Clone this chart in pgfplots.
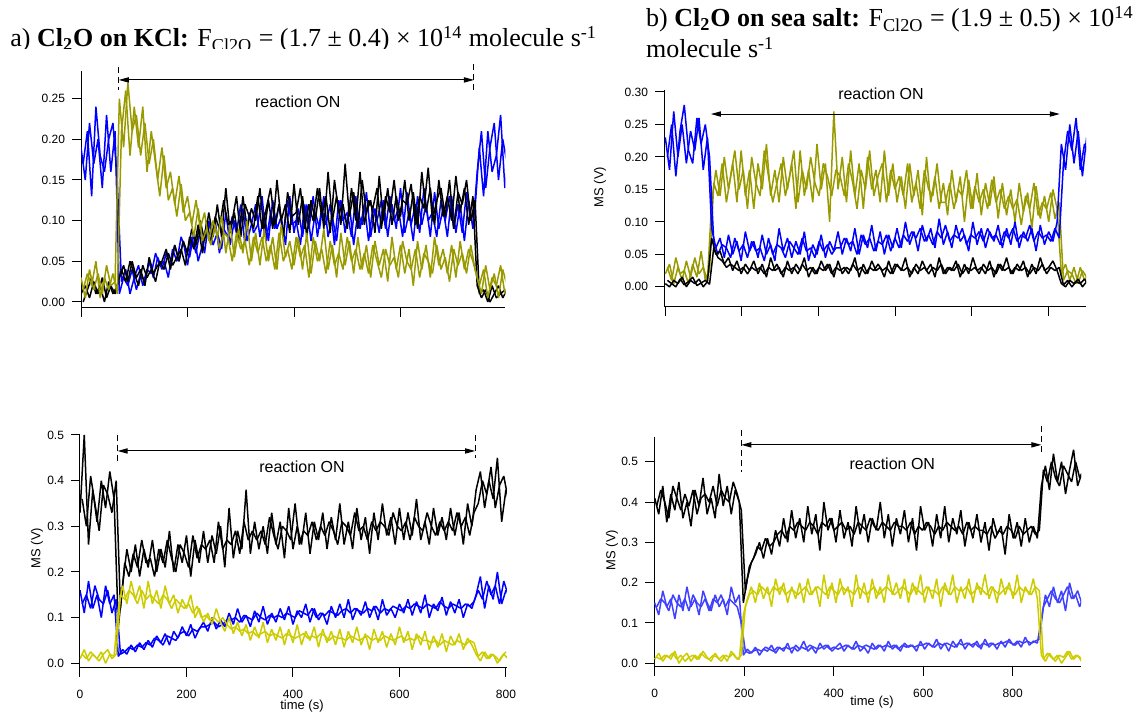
\documentclass[border=0pt]{standalone}
\usepackage{fontspec}
\setmainfont{Liberation Serif}
\setsansfont{Liberation Sans}
\usepackage{pgfplots}
\pgfplotsset{compat=1.18}
\usetikzlibrary{arrows.meta}
\definecolor{cblue}{RGB}{0,0,255}
\definecolor{colive}{RGB}{153,153,0}
\definecolor{cyel}{RGB}{204,204,0}
\definecolor{lblue}{RGB}{64,64,255}
\pgfplotsset{igor/.style={
  scale only axis, axis x line*=bottom, axis y line*=left,
  axis line style={-, line width=0.5pt},
  tick align=outside, major tick length=4.5pt,
  every tick/.style={black, line width=0.5pt},
  tick label style={font=\sffamily\fontsize{6}{7}\selectfont},
  xticklabel style={yshift=-3pt},
  /pgf/number format/assume math mode=true,
  clip mode=individual,
  every axis plot/.append style={line width=0.75pt, mark=none, line join=bevel},
}}
\tikzset{rxn/.style={{Triangle[length=5pt,width=2.6pt]}-{Triangle[length=5pt,width=2.6pt]}, line width=0.5pt},
  rxnlab/.style={font=\sffamily\fontsize{8}{9}\selectfont},
  dsh/.style={dashed, dash pattern=on 3pt off 2pt, line width=0.5pt},
  axl/.style={font=\sffamily\fontsize{6.5}{7}\selectfont}}
\begin{document}
\begin{tikzpicture}
\useasboundingbox (0,0) rectangle (573pt,358pt);
% titles
\begin{scope}
\clip (0,333.5pt) rectangle (320pt,358pt);
\node[anchor=base west, inner sep=0, font=\fontsize{13}{15}\selectfont] at (5pt,334.5pt) {a) \textbf{Cl\textsubscript{2}O on KCl:} F\textsubscript{Cl2O} = (1.7 ± 0.4) × 10\textsuperscript{14} molecule s\textsuperscript{-1}};
\end{scope}
\node[anchor=base west, inner sep=0, font=\fontsize{13}{15}\selectfont] at (322.9pt,344.5pt) {b) \textbf{Cl\textsubscript{2}O on sea salt:} F\textsubscript{Cl2O} = (1.9 ± 0.5) × 10\textsuperscript{14}};
\node[anchor=base west, inner sep=0, font=\fontsize{13}{15}\selectfont] at (322.9pt,329pt) {molecule s\textsuperscript{-1}};
% axis labels
\node[axl, rotate=90] at (18.5pt,84pt) {MS (V)};
\node[axl] at (151pt,5pt) {time (s)};
\node[axl, rotate=90] at (306pt,83pt) {MS (V)};
\node[axl] at (436pt,7pt) {time (s)};
\node[axl, rotate=90] at (300pt,264.5pt) {MS (V)};

% ---------------- panel a top ----------------
\begin{axis}[igor, at={(40.5pt,204pt)}, anchor=south west,
  width=212.2pt, height=118.5pt,
  xmin=0, xmax=797, ymin=-0.0074, ymax=0.284,
  xtick={0,200,400,600}, xticklabels={},
  ytick={0,0.05,0.1,0.15,0.2,0.25},
  yticklabel style={/pgf/number format/.cd, fixed, fixed zerofill, precision=2}]
\addplot[cblue] table[row sep=\\, header=false, x expr=\coordindex*8, y index=0] {
0.19\\0.15\\0.22\\0.17\\0.20\\0.14\\0.23\\0.16\\0.21\\
0.01\\0.03\\0.02\\0.04\\0.015\\0.035\\0.025\\
0.05\\0.03\\0.055\\0.04\\0.06\\0.045\\
0.07\\0.05\\0.075\\0.045\\0.08\\0.06\\
0.09\\0.06\\0.10\\0.07\\0.085\\0.065\\
0.11\\0.07\\0.10\\0.08\\0.115\\0.075\\0.095\\
0.12\\0.08\\0.11\\0.075\\0.125\\0.09\\0.105\\0.07\\0.13\\0.085\\0.115\\0.08\\
0.12\\0.075\\0.11\\0.09\\0.13\\0.08\\0.105\\0.075\\0.125\\0.085\\0.12\\0.07\\0.11\\0.095\\0.135\\0.08\\0.115\\0.085\\
0.125\\0.08\\0.12\\0.09\\0.14\\0.085\\0.11\\0.075\\0.13\\0.095\\0.12\\0.08\\0.135\\0.09\\0.115\\0.08\\0.13\\0.085\\0.12\\0.075\\0.125\\0.09\\
0.16\\0.21\\0.14\\0.19\\0.22\\0.15\\0.20\\0.17\\
};
\addplot[cblue] table[row sep=\\, header=false, x expr=\coordindex*8+4, y index=0] {
0.17\\0.21\\0.13\\0.24\\0.18\\0.16\\0.20\\0.22\\0.15\\
0.025\\0.04\\0.01\\0.03\\0.045\\0.02\\0.04\\
0.035\\0.06\\0.045\\0.05\\0.03\\0.065\\
0.05\\0.08\\0.065\\0.055\\0.085\\0.05\\
0.07\\0.095\\0.075\\0.10\\0.06\\0.09\\
0.08\\0.105\\0.085\\0.12\\0.07\\0.11\\0.085\\
0.095\\0.13\\0.075\\0.11\\0.09\\0.12\\0.08\\0.125\\0.095\\0.10\\0.07\\0.12\\
0.09\\0.13\\0.08\\0.115\\0.095\\0.12\\0.07\\0.125\\0.10\\0.11\\0.08\\0.13\\0.09\\0.12\\0.075\\0.115\\0.10\\0.125\\
0.09\\0.13\\0.10\\0.115\\0.08\\0.135\\0.095\\0.12\\0.085\\0.14\\0.10\\0.11\\0.08\\0.125\\0.10\\0.13\\0.09\\0.12\\0.085\\0.135\\0.10\\0.115\\
0.19\\0.13\\0.21\\0.16\\0.18\\0.23\\0.14\\0.19\\
};
\addplot[black] table[row sep=\\, header=false, x expr=\coordindex*8, y index=0] {
0.01\\0.02\\0.005\\0.025\\0.01\\0.03\\0.005\\0.02\\0.01\\
0.03\\0.045\\0.025\\0.05\\0.03\\0.04\\0.02\\0.055\\0.035\\0.045\\
0.05\\0.065\\0.04\\0.07\\0.05\\0.075\\
0.06\\0.09\\0.07\\0.10\\0.075\\0.11\\0.08\\
0.12\\0.08\\0.14\\0.085\\0.11\\0.075\\0.13\\0.09\\0.115\\
0.10\\0.14\\0.085\\0.125\\0.09\\0.15\\0.10\\0.12\\0.085\\0.145\\0.095\\0.13\\0.08\\0.125\\0.10\\
0.14\\0.09\\0.16\\0.10\\0.13\\0.095\\0.17\\0.105\\0.135\\0.09\\0.15\\0.11\\0.125\\0.085\\0.155\\0.10\\0.14\\0.095\\0.13\\0.105\\
0.15\\0.10\\0.135\\0.09\\0.16\\0.11\\0.14\\0.095\\0.15\\0.105\\0.13\\0.10\\0.155\\0.11\\0.14\\0.095\\0.13\\
0.02\\0.005\\0.015\\0.0\\0.01\\0.02\\0.005\\0.015\\
};
\addplot[black] table[row sep=\\, header=false, x expr=\coordindex*8+4, y index=0] {
0.0\\0.015\\0.03\\0.01\\0.02\\0.0\\0.025\\0.01\\0.02\\
0.04\\0.025\\0.05\\0.035\\0.02\\0.045\\0.03\\0.04\\0.025\\0.05\\
0.04\\0.06\\0.045\\0.055\\0.065\\0.045\\
0.08\\0.065\\0.095\\0.06\\0.10\\0.07\\0.105\\
0.09\\0.125\\0.095\\0.10\\0.13\\0.08\\0.12\\0.105\\0.09\\
0.13\\0.09\\0.115\\0.14\\0.095\\0.12\\0.08\\0.135\\0.105\\0.11\\0.14\\0.09\\0.12\\0.10\\0.14\\
0.105\\0.13\\0.085\\0.15\\0.11\\0.12\\0.09\\0.14\\0.10\\0.16\\0.095\\0.125\\0.115\\0.14\\0.09\\0.13\\0.11\\0.15\\0.10\\0.125\\
0.12\\0.145\\0.095\\0.13\\0.115\\0.165\\0.10\\0.125\\0.14\\0.105\\0.15\\0.09\\0.135\\0.12\\0.15\\0.10\\0.125\\
0.01\\0.015\\0.0\\0.02\\0.005\\0.01\\0.015\\0.0\\
};
\addplot[colive] table[row sep=\\, header=false, x expr=\coordindex*8, y index=0] {
0.03\\0.005\\0.04\\0.015\\0.035\\0.01\\0.045\\0.02\\0.025\\
0.25\\0.19\\0.27\\0.21\\
0.23\\0.18\\0.22\\0.17\\
0.20\\0.15\\0.19\\0.14\\
0.16\\0.12\\0.155\\0.11\\
0.13\\0.095\\0.125\\0.09\\
0.11\\0.075\\0.10\\0.08\\0.105\\
0.06\\0.095\\0.055\\0.09\\0.06\\0.10\\0.05\\
0.085\\0.045\\0.09\\0.05\\0.08\\0.04\\0.095\\0.055\\0.075\\0.045\\
0.08\\0.04\\0.085\\0.035\\0.075\\0.05\\0.09\\0.04\\0.07\\0.03\\0.085\\0.045\\0.075\\0.035\\0.08\\
0.04\\0.07\\0.03\\0.075\\0.045\\0.065\\0.025\\0.08\\0.04\\0.07\\0.035\\0.065\\0.02\\0.075\\0.04\\0.07\\0.03\\0.08\\0.045\\0.065\\0.035\\0.07\\0.03\\0.075\\0.04\\0.065\\0.05\\
0.03\\0.01\\0.045\\0.015\\0.035\\0.005\\0.04\\0.02\\
};
\addplot[colive] table[row sep=\\, header=false, x expr=\coordindex*8+4, y index=0] {
0.015\\0.035\\0.02\\0.05\\0.005\\0.03\\0.015\\0.035\\0.01\\
0.21\\0.26\\0.18\\0.24\\
0.19\\0.24\\0.16\\0.21\\
0.17\\0.13\\0.18\\0.125\\
0.14\\0.105\\0.145\\0.10\\
0.11\\0.08\\0.115\\0.075\\
0.09\\0.07\\0.095\\0.065\\0.085\\
0.08\\0.05\\0.085\\0.065\\0.075\\0.045\\0.08\\
0.06\\0.08\\0.05\\0.07\\0.04\\0.085\\0.05\\0.065\\0.04\\0.08\\
0.055\\0.07\\0.03\\0.08\\0.05\\0.065\\0.035\\0.075\\0.045\\0.06\\0.04\\0.08\\0.05\\0.065\\0.04\\
0.06\\0.035\\0.07\\0.05\\0.03\\0.065\\0.045\\0.055\\0.03\\0.075\\0.05\\0.04\\0.065\\0.03\\0.06\\0.05\\0.035\\0.07\\0.04\\0.055\\0.025\\0.065\\0.045\\0.06\\0.035\\0.07\\0.04\\
0.02\\0.04\\0.005\\0.03\\0.02\\0.045\\0.01\\0.03\\
};
\draw[dsh] (axis cs:71,0.289) -- (axis cs:71,0.261);
\draw[dsh] (axis cs:738,0.292) -- (axis cs:738,0.259);
\draw[rxn] (axis cs:71,0.273) -- (axis cs:738,0.273);
\node[rxnlab] at (axis cs:407,0.246) {reaction ON};
\end{axis}

% ---------------- panel b top ----------------
\begin{axis}[igor, at={(332pt,204.5pt)}, anchor=south west,
  width=211pt, height=108.5pt,
  xmin=-3.4, xmax=1098.4, ymin=-0.031, ymax=0.303,
  xtick={0,200,400,600,800,1000}, xticklabels={},
  ytick={0,0.05,0.1,0.15,0.2,0.25,0.3},
  yticklabel style={/pgf/number format/.cd, fixed, fixed zerofill, precision=2}]
\addplot[colive] table[row sep=\\, header=false, x expr=\coordindex*11, y index=0] {
0.02\\0.035\\0.005\\0.03\\0.01\\0.04\\0.015\\0.045\\0.02\\0.03\\0.01\\
0.13\\0.18\\0.14\\0.20\\0.15\\0.19\\0.13\\0.21\\0.14\\0.18\\0.12\\0.19\\0.15\\0.22\\0.14\\
0.18\\0.13\\0.20\\0.15\\0.19\\0.12\\0.21\\0.14\\0.18\\0.13\\0.22\\0.15\\0.19\\0.10\\0.27\\
0.15\\0.20\\0.13\\0.21\\0.14\\0.19\\0.12\\0.20\\0.15\\0.18\\0.13\\0.21\\0.14\\0.19\\0.13\\
0.17\\0.12\\0.19\\0.14\\0.18\\0.11\\0.20\\0.13\\0.17\\0.12\\
0.16\\0.11\\0.18\\0.13\\0.17\\0.10\\0.165\\0.12\\0.175\\0.11\\0.16\\0.125\\0.17\\0.105\\0.16\\
0.11\\0.15\\0.10\\0.16\\0.115\\0.145\\0.09\\0.155\\0.105\\0.14\\0.10\\0.15\\0.12\\
0.02\\0.035\\0.01\\0.03\\0.005\\0.025\\0.015\\
};
\addplot[colive] table[row sep=\\, header=false, x expr=\coordindex*11+5.5, y index=0] {
0.03\\0.01\\0.045\\0.02\\0.025\\0.005\\0.035\\0.015\\0.055\\0.01\\0.025\\
0.16\\0.14\\0.19\\0.13\\0.17\\0.21\\0.15\\0.18\\0.12\\0.20\\0.16\\0.14\\0.21\\0.17\\0.13\\
0.16\\0.19\\0.14\\0.17\\0.21\\0.13\\0.18\\0.15\\0.20\\0.16\\0.14\\0.19\\0.17\\0.14\\0.18\\
0.17\\0.14\\0.19\\0.16\\0.12\\0.18\\0.15\\0.21\\0.14\\0.17\\0.19\\0.13\\0.18\\0.15\\0.17\\
0.14\\0.19\\0.13\\0.16\\0.12\\0.18\\0.15\\0.14\\0.19\\0.13\\
0.13\\0.16\\0.12\\0.15\\0.14\\0.18\\0.12\\0.155\\0.13\\0.15\\0.12\\0.165\\0.13\\0.15\\0.12\\
0.14\\0.12\\0.135\\0.095\\0.14\\0.12\\0.16\\0.11\\0.13\\0.12\\0.145\\0.105\\0.13\\
0.01\\0.025\\0.02\\0.005\\0.03\\0.01\\0.02\\
};
\addplot[cblue] table[row sep=\\, header=false, x expr=\coordindex*11, y index=0] {
0.23\\0.18\\0.27\\0.20\\0.25\\0.19\\0.24\\0.21\\0.26\\0.18\\0.23\\
0.09\\0.06\\0.075\\0.045\\0.08\\0.05\\0.07\\0.04\\0.085\\0.055\\
0.07\\0.045\\0.08\\0.05\\0.065\\0.04\\0.09\\0.055\\0.075\\0.045\\0.07\\0.05\\0.085\\0.04\\0.065\\0.05\\0.08\\0.045\\0.07\\0.055\\
0.085\\0.05\\0.075\\0.055\\0.09\\0.05\\0.08\\0.06\\0.095\\0.055\\0.085\\0.05\\0.08\\0.06\\0.09\\
0.06\\0.10\\0.065\\0.085\\0.055\\0.095\\0.07\\0.09\\0.06\\0.105\\0.065\\0.085\\0.06\\0.095\\0.07\\0.08\\0.055\\0.10\\0.065\\0.09\\0.06\\0.085\\0.07\\0.095\\0.06\\0.09\\0.065\\0.10\\0.06\\0.085\\0.07\\0.09\\0.055\\0.095\\0.065\\0.085\\0.07\\0.10\\
0.22\\0.18\\0.25\\0.19\\0.24\\0.17\\0.23\\
};
\addplot[cblue] table[row sep=\\, header=false, x expr=\coordindex*11+5.5, y index=0] {
0.20\\0.25\\0.17\\0.24\\0.28\\0.21\\0.19\\0.26\\0.22\\0.25\\0.20\\
0.07\\0.05\\0.065\\0.06\\0.045\\0.075\\0.055\\0.065\\0.045\\0.07\\
0.055\\0.06\\0.04\\0.075\\0.05\\0.065\\0.06\\0.045\\0.07\\0.06\\0.05\\0.075\\0.055\\0.06\\0.045\\0.07\\0.055\\0.065\\0.05\\0.06\\
0.06\\0.075\\0.065\\0.07\\0.05\\0.08\\0.065\\0.075\\0.055\\0.07\\0.065\\0.08\\0.055\\0.075\\0.06\\
0.08\\0.07\\0.085\\0.075\\0.09\\0.07\\0.08\\0.065\\0.085\\0.075\\0.095\\0.07\\0.08\\0.075\\0.09\\0.065\\0.08\\0.075\\0.085\\0.07\\0.09\\0.075\\0.08\\0.065\\0.085\\0.075\\0.09\\0.07\\0.08\\0.075\\0.095\\0.07\\0.085\\0.075\\0.08\\0.07\\0.09\\0.075\\
0.19\\0.24\\0.21\\0.26\\0.18\\0.22\\0.20\\
};
\addplot[black] table[row sep=\\, header=false, x expr=\coordindex*11, y index=0] {
0.005\\0.0\\0.01\\0.005\\0.015\\0.0\\0.01\\0.005\\0.012\\0.0\\0.008\\
0.075\\0.05\\0.055\\0.035\\0.045\\0.025\\0.04\\0.02\\0.035\\0.025\\
0.04\\0.02\\0.035\\0.015\\0.045\\0.025\\0.03\\0.015\\0.04\\0.02\\0.035\\0.025\\0.045\\0.015\\0.03\\0.02\\0.04\\0.025\\0.035\\0.015\\0.04\\0.02\\0.03\\0.025\\0.045\\0.015\\0.035\\0.02\\0.04\\0.025\\
0.03\\0.015\\0.04\\0.02\\0.035\\0.025\\0.045\\0.015\\0.03\\0.02\\0.04\\0.025\\0.035\\0.015\\0.045\\0.02\\0.03\\0.025\\0.04\\0.015\\0.035\\0.02\\0.045\\0.025\\0.03\\0.02\\0.04\\0.015\\0.035\\0.025\\0.045\\0.02\\0.03\\0.025\\0.04\\0.015\\0.035\\0.02\\0.045\\0.025\\0.03\\0.04\\0.025\\
0.005\\0.0\\0.01\\0.005\\0.012\\0.0\\0.008\\
};
\addplot[black] table[row sep=\\, header=false, x expr=\coordindex*11+5.5, y index=0] {
0.01\\0.005\\0.0\\0.012\\0.003\\0.008\\0.015\\0.002\\0.006\\0.01\\0.004\\
0.06\\0.045\\0.04\\0.03\\0.035\\0.03\\0.025\\0.03\\0.02\\0.03\\
0.025\\0.03\\0.02\\0.03\\0.025\\0.035\\0.02\\0.03\\0.025\\0.03\\0.02\\0.035\\0.025\\0.03\\0.02\\0.03\\0.025\\0.035\\0.02\\0.03\\0.025\\0.03\\0.02\\0.035\\0.025\\0.03\\0.02\\0.03\\0.025\\0.035\\
0.025\\0.03\\0.02\\0.035\\0.03\\0.025\\0.03\\0.02\\0.035\\0.025\\0.03\\0.02\\0.03\\0.025\\0.035\\0.02\\0.03\\0.025\\0.035\\0.02\\0.03\\0.025\\0.03\\0.02\\0.035\\0.025\\0.03\\0.02\\0.035\\0.025\\0.03\\0.02\\0.035\\0.025\\0.03\\0.02\\0.03\\0.025\\0.035\\0.02\\0.03\\0.025\\0.03\\
0.003\\0.01\\0.0\\0.008\\0.005\\0.012\\0.002\\
};
\draw[rxn] (axis cs:119,0.266) -- (axis cs:1030,0.266);
\node[rxnlab] at (axis cs:563,0.297) {reaction ON};
\end{axis}

% ---------------- panel a bottom ----------------
\begin{axis}[igor, at={(40pt,24pt)}, anchor=south west,
  width=213.5pt, height=116.5pt,
  xmin=0, xmax=802, ymin=-0.0103, ymax=0.5,
  xtick={0,200,400,600,800},
  ytick={0,0.1,0.2,0.3,0.4,0.5},
  yticklabel style={/pgf/number format/.cd, fixed, fixed zerofill, precision=1}]
\addplot[black] table[row sep=\\, header=false, x expr=\coordindex*8, y index=0] {
0.33\\0.50\\0.26\\0.38\\0.31\\0.40\\0.34\\0.42\\0.36\\
0.08\\0.17\\0.25\\0.20\\0.26\\0.19\\0.25\\0.21\\0.27\\0.20\\
0.25\\0.21\\0.29\\0.20\\0.26\\0.22\\0.28\\0.19\\0.27\\0.22\\
0.29\\0.22\\0.28\\0.24\\0.30\\0.21\\
0.34\\0.23\\0.29\\0.25\\0.38\\0.24\\
0.31\\0.25\\0.30\\0.24\\0.33\\0.26\\0.31\\0.23\\0.34\\0.25\\0.30\\0.26\\0.33\\0.24\\0.31\\
0.27\\0.33\\0.25\\0.32\\0.27\\0.35\\0.26\\0.31\\0.25\\0.34\\0.27\\0.32\\0.24\\
0.33\\0.27\\0.35\\0.28\\0.32\\0.26\\0.34\\0.27\\0.33\\0.28\\0.36\\0.27\\0.31\\0.26\\0.34\\0.28\\0.32\\
0.27\\0.34\\0.28\\0.33\\0.26\\0.35\\0.30\\
0.38\\0.42\\0.34\\0.40\\0.36\\0.45\\0.31\\0.38\\
};
\addplot[black] table[row sep=\\, header=false, x expr=\coordindex*8+4, y index=0] {
0.36\\0.30\\0.41\\0.35\\0.29\\0.39\\0.37\\0.33\\0.40\\
0.12\\0.22\\0.19\\0.24\\0.21\\0.27\\0.22\\0.23\\0.19\\0.25\\
0.22\\0.27\\0.23\\0.20\\0.26\\0.24\\0.21\\0.28\\0.23\\0.26\\
0.25\\0.27\\0.22\\0.31\\0.25\\0.27\\
0.26\\0.29\\0.24\\0.31\\0.27\\0.29\\
0.27\\0.29\\0.26\\0.32\\0.28\\0.25\\0.30\\0.29\\0.27\\0.35\\0.26\\0.29\\0.28\\0.31\\0.27\\
0.30\\0.28\\0.31\\0.29\\0.26\\0.31\\0.30\\0.28\\0.33\\0.29\\0.30\\0.27\\0.31\\
0.29\\0.31\\0.30\\0.28\\0.33\\0.30\\0.29\\0.31\\0.27\\0.32\\0.30\\0.29\\0.33\\0.30\\0.28\\0.31\\0.29\\
0.31\\0.29\\0.33\\0.30\\0.32\\0.28\\0.33\\
0.35\\0.40\\0.37\\0.43\\0.34\\0.39\\0.41\\0.36\\
};
\addplot[cblue] table[row sep=\\, header=false, x expr=\coordindex*8, y index=0] {
0.16\\0.11\\0.18\\0.12\\0.15\\0.10\\0.17\\0.13\\0.15\\
0.015\\0.03\\0.02\\0.04\\0.025\\0.045\\0.03\\
0.05\\0.035\\0.06\\0.045\\0.065\\0.04\\0.07\\
0.055\\0.08\\0.06\\0.085\\0.055\\0.075\\
0.09\\0.07\\0.10\\0.075\\0.095\\0.08\\
0.11\\0.085\\0.12\\0.09\\0.105\\0.08\\0.115\\0.09\\0.125\\0.085\\0.11\\
0.09\\0.12\\0.095\\0.125\\0.085\\0.115\\0.10\\0.13\\0.09\\0.12\\0.095\\0.11\\0.085\\0.125\\0.10\\
0.13\\0.10\\0.14\\0.095\\0.12\\0.105\\0.135\\0.10\\0.125\\0.095\\0.14\\0.105\\0.12\\0.10\\0.13\\
0.11\\0.14\\0.105\\0.135\\0.11\\0.15\\0.10\\0.13\\0.115\\0.145\\0.105\\0.135\\0.11\\0.14\\0.10\\0.13\\0.12\\
0.15\\0.19\\0.12\\0.17\\0.14\\0.20\\0.13\\0.16\\
};
\addplot[cblue] table[row sep=\\, header=false, x expr=\coordindex*8+4, y index=0] {
0.13\\0.15\\0.12\\0.17\\0.14\\0.13\\0.16\\0.11\\0.14\\
0.02\\0.025\\0.035\\0.03\\0.04\\0.035\\0.045\\
0.04\\0.055\\0.05\\0.04\\0.06\\0.055\\0.05\\
0.065\\0.07\\0.06\\0.075\\0.07\\0.08\\
0.08\\0.085\\0.09\\0.08\\0.085\\0.095\\
0.095\\0.10\\0.09\\0.105\\0.10\\0.095\\0.11\\0.10\\0.095\\0.105\\0.10\\
0.105\\0.10\\0.11\\0.105\\0.10\\0.115\\0.11\\0.105\\0.12\\0.10\\0.11\\0.105\\0.115\\0.11\\0.105\\
0.115\\0.12\\0.11\\0.12\\0.115\\0.11\\0.12\\0.115\\0.125\\0.11\\0.12\\0.115\\0.125\\0.12\\0.115\\
0.125\\0.12\\0.13\\0.125\\0.12\\0.13\\0.125\\0.12\\0.135\\0.125\\0.12\\0.13\\0.125\\0.12\\0.13\\0.125\\0.135\\
0.16\\0.14\\0.18\\0.15\\0.17\\0.13\\0.18\\0.15\\
};
\addplot[cyel] table[row sep=\\, header=false, x expr=\coordindex*8, y index=0] {
0.01\\0.03\\0.005\\0.02\\0.01\\0.025\\0.0\\0.02\\0.015\\
0.12\\0.17\\0.13\\0.18\\0.14\\0.17\\0.12\\0.18\\
0.13\\0.16\\0.12\\0.17\\0.13\\0.15\\
0.11\\0.14\\0.12\\0.15\\0.10\\
0.12\\0.09\\0.11\\0.085\\0.12\\0.09\\
0.07\\0.10\\0.065\\0.09\\0.06\\
0.085\\0.05\\0.08\\0.055\\0.09\\0.045\\0.075\\
0.05\\0.08\\0.04\\0.075\\0.045\\0.085\\0.04\\0.07\\0.05\\0.08\\0.035\\0.075\\0.045\\0.07\\0.04\\
0.075\\0.035\\0.07\\0.045\\0.08\\0.04\\0.065\\0.03\\0.075\\0.045\\0.07\\0.035\\0.065\\0.04\\0.08\\0.045\\0.07\\0.03\\0.065\\0.04\\
0.07\\0.03\\0.06\\0.035\\0.065\\0.025\\0.06\\0.04\\0.065\\0.03\\0.055\\0.04\\
0.02\\0.005\\0.025\\0.01\\0.02\\0.0\\0.015\\0.025\\
};
\addplot[cyel] table[row sep=\\, header=false, x expr=\coordindex*8+4, y index=0] {
0.02\\0.01\\0.025\\0.015\\0.005\\0.02\\0.03\\0.01\\0.02\\
0.15\\0.14\\0.16\\0.15\\0.13\\0.16\\0.14\\0.15\\
0.14\\0.13\\0.15\\0.14\\0.12\\0.14\\
0.13\\0.12\\0.13\\0.11\\0.125\\
0.10\\0.105\\0.095\\0.10\\0.09\\0.10\\
0.085\\0.075\\0.08\\0.07\\0.075\\
0.065\\0.07\\0.06\\0.065\\0.07\\0.06\\0.065\\
0.06\\0.055\\0.065\\0.06\\0.055\\0.06\\0.065\\0.055\\0.06\\0.055\\0.065\\0.06\\0.05\\0.06\\0.055\\
0.055\\0.05\\0.06\\0.055\\0.05\\0.055\\0.06\\0.05\\0.055\\0.05\\0.06\\0.055\\0.05\\0.055\\0.06\\0.05\\0.055\\0.05\\0.06\\0.05\\
0.05\\0.045\\0.05\\0.04\\0.05\\0.045\\0.04\\0.05\\0.045\\0.04\\0.05\\0.045\\
0.015\\0.025\\0.01\\0.02\\0.015\\0.005\\0.02\\0.01\\
};
\draw[dsh] (axis cs:70.7,0.5) -- (axis cs:70.7,0.438);
\draw[dsh] (axis cs:742,0.5) -- (axis cs:742,0.45);
\draw[rxn] (axis cs:70.7,0.465) -- (axis cs:742,0.465);
\node[rxnlab] at (axis cs:417,0.43) {reaction ON};
\end{axis}

% ---------------- panel b bottom ----------------
\begin{axis}[igor, at={(327pt,24.5pt)}, anchor=south west,
  width=213.5pt, height=115pt,
  xmin=-1.6, xmax=952.6, ymin=-0.0092, ymax=0.5615,
  xtick={0,200,400,600,800},
  ytick={0,0.1,0.2,0.3,0.4,0.5},
  yticklabel style={/pgf/number format/.cd, fixed, fixed zerofill, precision=1}]
\addplot[black] table[row sep=\\, header=false, x expr=\coordindex*9, y index=0] {
0.41\\0.37\\0.44\\0.35\\0.42\\0.38\\0.45\\0.36\\0.40\\0.34\\0.43\\0.39\\0.46\\0.37\\0.41\\0.36\\0.47\\0.39\\0.44\\0.37\\0.43\\0.40\\
0.15\\0.21\\0.25\\0.27\\
0.30\\0.26\\0.31\\0.27\\0.33\\
0.29\\0.36\\0.30\\0.38\\0.31\\
0.36\\0.30\\0.39\\0.32\\0.37\\0.28\\0.40\\0.33\\0.36\\0.30\\0.38\\0.31\\0.35\\0.29\\0.39\\0.32\\0.37\\0.30\\0.36\\0.33\\0.40\\0.31\\0.37\\0.29\\0.36\\
0.32\\0.38\\0.30\\0.36\\0.28\\0.39\\0.33\\0.35\\0.29\\0.37\\0.31\\0.39\\0.30\\0.36\\0.32\\0.38\\0.29\\0.35\\0.31\\0.37\\
0.30\\0.35\\0.28\\0.36\\0.32\\0.34\\0.27\\0.37\\0.31\\0.35\\0.29\\0.36\\0.30\\0.34\\0.31\\
0.44\\0.49\\0.43\\0.52\\0.45\\0.50\\0.42\\0.48\\0.53\\0.44\\0.47\\
};
\addplot[black] table[row sep=\\, header=false, x expr=\coordindex*9+4.5, y index=0] {
0.39\\0.43\\0.40\\0.36\\0.44\\0.41\\0.38\\0.42\\0.39\\0.43\\0.37\\0.41\\0.42\\0.40\\0.44\\0.39\\0.43\\0.41\\0.40\\0.45\\0.42\\0.38\\
0.18\\0.24\\0.26\\0.29\\
0.28\\0.31\\0.29\\0.30\\0.32\\
0.33\\0.31\\0.34\\0.33\\0.35\\
0.34\\0.33\\0.35\\0.34\\0.32\\0.35\\0.34\\0.36\\0.33\\0.34\\0.35\\0.33\\0.34\\0.32\\0.35\\0.34\\0.33\\0.36\\0.34\\0.33\\0.35\\0.34\\0.33\\0.35\\0.34\\
0.34\\0.33\\0.35\\0.32\\0.34\\0.33\\0.35\\0.34\\0.32\\0.34\\0.33\\0.35\\0.34\\0.33\\0.34\\0.32\\0.35\\0.33\\0.34\\0.33\\
0.33\\0.32\\0.34\\0.31\\0.33\\0.32\\0.34\\0.33\\0.31\\0.34\\0.32\\0.33\\0.34\\0.32\\0.33\\
0.48\\0.45\\0.50\\0.46\\0.44\\0.49\\0.47\\0.45\\0.50\\0.46\\0.48\\
};
\addplot[lblue] table[row sep=\\, header=false, x expr=\coordindex*9, y index=0] {
0.15\\0.12\\0.18\\0.14\\0.16\\0.11\\0.17\\0.13\\0.19\\0.14\\0.16\\0.12\\0.18\\0.15\\0.13\\0.17\\0.14\\0.16\\0.12\\0.19\\0.15\\0.17\\
0.02\\0.035\\0.025\\0.04\\0.02\\0.035\\0.03\\0.045\\0.025\\
0.04\\0.03\\0.05\\0.025\\0.045\\0.035\\0.055\\0.03\\0.04\\0.025\\0.05\\0.035\\0.045\\0.03\\0.04\\
0.05\\0.03\\0.045\\0.035\\0.055\\0.03\\0.04\\0.025\\0.05\\0.035\\0.045\\0.03\\0.055\\0.035\\0.045\\0.03\\0.05\\0.04\\0.045\\0.03\\
0.055\\0.035\\0.05\\0.04\\0.06\\0.035\\0.05\\0.03\\0.055\\0.04\\0.06\\0.035\\0.05\\0.04\\0.055\\0.035\\0.06\\0.04\\0.05\\0.035\\
0.055\\0.04\\0.06\\0.045\\0.055\\0.04\\0.065\\0.045\\0.055\\0.05\\
0.11\\0.17\\0.14\\0.19\\0.15\\0.18\\0.13\\0.20\\0.16\\0.18\\0.15\\
};
\addplot[lblue] table[row sep=\\, header=false, x expr=\coordindex*9+4.5, y index=0] {
0.14\\0.16\\0.15\\0.13\\0.17\\0.15\\0.14\\0.16\\0.13\\0.17\\0.15\\0.14\\0.16\\0.13\\0.16\\0.15\\0.17\\0.14\\0.16\\0.15\\0.14\\0.10\\
0.03\\0.025\\0.03\\0.035\\0.03\\0.04\\0.035\\0.03\\0.04\\
0.035\\0.04\\0.035\\0.04\\0.03\\0.04\\0.035\\0.045\\0.04\\0.035\\0.04\\0.045\\0.035\\0.04\\0.035\\
0.04\\0.045\\0.04\\0.035\\0.045\\0.04\\0.045\\0.04\\0.035\\0.045\\0.04\\0.045\\0.04\\0.045\\0.035\\0.045\\0.04\\0.045\\0.04\\0.045\\
0.045\\0.05\\0.045\\0.04\\0.05\\0.045\\0.05\\0.045\\0.04\\0.05\\0.045\\0.05\\0.045\\0.05\\0.04\\0.05\\0.045\\0.05\\0.045\\0.05\\
0.05\\0.055\\0.05\\0.045\\0.055\\0.05\\0.055\\0.05\\0.055\\0.06\\
0.14\\0.16\\0.18\\0.16\\0.15\\0.17\\0.19\\0.16\\0.17\\0.14\\0.17\\
};
\addplot[cyel] table[row sep=\\, header=false, x expr=\coordindex*9, y index=0] {
0.01\\0.025\\0.005\\0.02\\0.01\\0.03\\0.0\\0.015\\0.025\\0.005\\0.02\\0.01\\0.03\\0.015\\0.005\\0.025\\0.01\\0.02\\0.005\\0.03\\0.015\\0.01\\
0.12\\0.16\\0.19\\0.15\\0.20\\0.16\\0.19\\0.14\\0.21\\0.17\\0.20\\0.15\\0.19\\0.16\\
0.20\\0.15\\0.21\\0.17\\0.19\\0.14\\0.22\\0.16\\0.20\\0.15\\0.21\\0.17\\0.19\\0.14\\0.22\\0.16\\0.20\\0.15\\0.21\\0.16\\0.19\\0.15\\0.22\\0.17\\0.20\\
0.16\\0.21\\0.15\\0.20\\0.17\\0.22\\0.15\\0.19\\0.16\\0.21\\0.14\\0.20\\0.17\\0.22\\0.15\\0.19\\0.16\\0.21\\0.15\\0.20\\0.17\\0.22\\0.16\\0.19\\0.15\\0.21\\0.17\\0.20\\0.16\\0.22\\0.15\\0.19\\0.17\\0.21\\0.16\\
0.02\\0.005\\0.025\\0.01\\0.02\\0.0\\0.015\\0.03\\0.01\\0.02\\0.005\\
};
\addplot[cyel] table[row sep=\\, header=false, x expr=\coordindex*9+4.5, y index=0] {
0.015\\0.01\\0.02\\0.015\\0.025\\0.01\\0.02\\0.005\\0.015\\0.02\\0.01\\0.025\\0.015\\0.01\\0.02\\0.015\\0.005\\0.02\\0.015\\0.025\\0.01\\0.02\\
0.14\\0.17\\0.18\\0.17\\0.19\\0.18\\0.17\\0.19\\0.18\\0.19\\0.17\\0.18\\0.18\\0.17\\
0.18\\0.19\\0.17\\0.18\\0.19\\0.18\\0.17\\0.19\\0.18\\0.17\\0.19\\0.18\\0.18\\0.17\\0.19\\0.18\\0.17\\0.18\\0.19\\0.17\\0.18\\0.19\\0.18\\0.17\\0.18\\
0.19\\0.18\\0.17\\0.19\\0.18\\0.17\\0.19\\0.18\\0.18\\0.17\\0.19\\0.18\\0.17\\0.19\\0.18\\0.18\\0.19\\0.17\\0.18\\0.19\\0.18\\0.17\\0.19\\0.18\\0.17\\0.18\\0.19\\0.18\\0.17\\0.19\\0.18\\0.18\\0.17\\0.19\\0.18\\
0.01\\0.025\\0.015\\0.005\\0.02\\0.015\\0.03\\0.01\\0.02\\0.015\\0.01\\
};
\draw[dsh] (axis cs:193.5,0.579) -- (axis cs:193.5,0.475);
\draw[dsh] (axis cs:864,0.59) -- (axis cs:864,0.52);
\draw[rxn] (axis cs:193.5,0.542) -- (axis cs:864,0.542);
\node[rxnlab] at (axis cs:531,0.495) {reaction ON};
\end{axis}
\end{tikzpicture}
\end{document}
